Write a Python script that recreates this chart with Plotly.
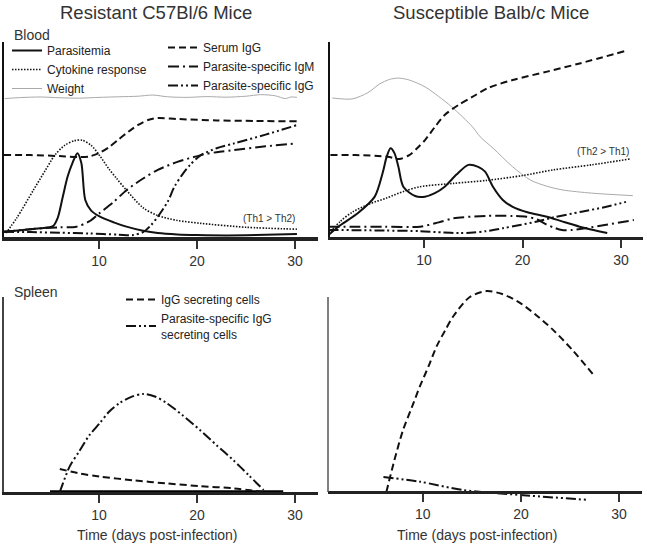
import plotly.graph_objects as go

W, H = 647, 545

# ---------------- data (days post-infection, relative level) ----------------
# Resistant C57Bl/6 - blood
r_weight_days = [0.4, 2, 4, 6, 8, 10, 12, 14, 15.5, 17, 19, 21, 23, 25, 26.5, 28, 29, 29.6, 30.2]
r_weight_vals = [71.0, 71.5, 71.8, 71.4, 71.2, 71.6, 71.9, 72.2, 72.8, 71.9, 71.6, 72.0, 71.7, 72.2, 73.0, 72.4, 71.0, 71.8, 71.6]

r_para_days = [0.3, 2, 4, 5.3, 5.8, 6.3, 6.8, 7.3, 7.8, 8.2, 8.6, 9.2, 10.1, 11.5, 12.8, 14.5, 16, 18, 20, 23, 26, 30.2]
r_para_vals = [2.7, 3.5, 4.5, 5.6, 10, 20.5, 31, 38, 43, 38, 19, 13.5, 10.4, 7.5, 5.3, 3.2, 2, 1.3, 1, 0.8, 1, 1.5]

r_cyto_days = [0.5, 1.6, 3.3, 4.5, 5.5, 6.5, 7.5, 8.3, 9.2, 10.1, 11, 11.8, 12.8, 14.5, 16, 18, 20.4, 25, 30.2]
r_cyto_vals = [2, 9.7, 24, 34, 42, 47, 49.4, 49.6, 47, 41.5, 35, 30, 24, 15, 11, 8.5, 7, 5, 4]

r_serum_days = [0.3, 3, 6, 8, 9, 10, 11, 12, 13, 14, 15, 16, 18, 22, 26, 30.2]
r_serum_vals = [42, 42, 41.5, 41, 41.3, 43, 46, 50, 54, 57.5, 60, 61, 60.5, 59.8, 59.5, 59.3]

r_igm_days = [0.3, 3, 6, 7.7, 9, 10, 11.5, 12.8, 14.5, 16, 18, 20.4, 22, 23.8, 27, 30.2]
r_igm_vals = [2.7, 4, 5, 5.3, 8, 12, 18, 24, 30, 34.4, 38.5, 42, 43.5, 44.6, 46.5, 48]

r_igg_days = [0.3, 3, 6, 9, 12, 13.5, 14.5, 15.3, 16, 17, 17.7, 18.5, 19.3, 20.4, 22, 23.8, 27, 30.2]
r_igg_vals = [2.7, 2.5, 2.2, 1.8, 1.2, 1, 2.5, 6, 10.4, 18, 25.8, 32, 37, 42, 45.5, 48, 52.5, 57.4]

# Susceptible Balb/c - blood
s_weight_days = [0.7, 2.7, 4.3, 5.5, 6.5, 7.4, 8.5, 10.1, 11.5, 12.8, 14.9, 15.7, 17, 19, 20.8, 22.5, 24.1, 27, 31.2]
s_weight_vals = [71.3, 70.8, 74, 78.5, 80.8, 81.5, 80.5, 77, 72, 66.8, 56.6, 51.4, 45.6, 36, 29.2, 26, 24.1, 22.5, 21.2]

s_para_days = [0.3, 1.5, 3.3, 5.0, 5.8, 6.2, 6.6, 7.0, 7.4, 7.9, 9.1, 10.1, 11.1, 12.1, 13.3, 14.5, 15.5, 16.2, 17, 18, 19, 20.5, 22.5, 24, 25.8, 28.6]
s_para_vals = [1, 6, 12.3, 20.7, 32.8, 41, 45.5, 43, 36, 25.8, 21, 20.7, 22.5, 25.8, 32, 37, 36, 33.5, 25.8, 19, 15.5, 12.7, 10.4, 8, 5.3, 2]

s_cyto_days = [0.3, 1.5, 2.8, 4.5, 6.2, 8, 9.6, 13, 16.3, 20, 23.1, 27, 30.9]
s_cyto_vals = [1.5, 8, 13, 17, 20, 23.5, 25.8, 27.5, 29, 31.5, 34.4, 37, 40]

s_serum_days = [0.5, 3, 6.3, 7.5, 8.5, 9.3, 10.1, 11.1, 12.1, 13.5, 14.9, 16.5, 19, 22.5, 25.8, 30.5]
s_serum_vals = [42, 42, 41.2, 40, 42, 45.5, 49.7, 56.4, 62.6, 67.7, 71.8, 76.4, 80.5, 84.8, 89, 95.5]

s_igm_days = [0.3, 3, 6, 9.6, 11.5, 13, 16.3, 19, 20.4, 21.5, 22.4, 23.2, 24, 25, 26.5, 28.5, 31.3]
s_igm_vals = [5.3, 5.3, 5.3, 5.3, 7.5, 9.6, 10.8, 10.8, 10.4, 9, 6.5, 4.8, 3.6, 3.6, 4.6, 6.3, 8.7]

s_igg_days = [0.3, 3, 6, 9.6, 12, 13.6, 15, 16.3, 18, 19.6, 21.5, 23.1, 26, 28.5, 30.5]
s_igg_vals = [3.6, 3.5, 3.3, 3, 2.3, 2, 2.3, 3, 4.5, 6, 8, 10, 13, 15.5, 18]

# Spleen
r_sc_days = [6, 8, 10.1, 13.5, 16.9, 20.3, 23.7, 26.8]
r_sc_vals = [11.8, 9.5, 7.9, 6, 4.4, 3, 1.9, 0]
r_pssc_days = [6, 7, 8, 9, 10.1, 11, 12.1, 13.3, 14.5, 15.7, 16.9, 18.5, 20.3, 22, 23.7, 25.3, 26.8]
r_pssc_vals = [0, 13, 21, 29, 35.4, 41, 45.6, 48.8, 50.3, 49, 45.6, 39.5, 31.8, 24, 16.4, 8.5, 1]
r_base_days = [5, 28.8]
r_base_vals = [0, 0]

s_sc_days = [6.3, 7.1, 8.0, 8.9, 9.7, 10.6, 11.4, 12.3, 13.1, 14.8, 16.5, 18.1, 19.9, 21.6, 23.3, 25.3, 27.4]
s_sc_vals = [0, 16, 31.8, 43.5, 54, 64.5, 74.5, 83, 90, 100, 103, 101.5, 97, 90.5, 83, 72.5, 60]
s_pssc_days = [6.0, 9.7, 14.1, 19.9, 26.7]
s_pssc_vals = [7.7, 5.3, 1, -1.5, -4]

tick_vals = [10, 20, 30]
tick_text = ["10", "20", "30"]

# ---------------- styles ----------------
FONT = "Liberation Sans, Arial, sans-serif"
SERUM = "7px,4px"
IGM = "11px,4px,2px,4px"
IGG = "10px,3px,2px,3px,2px,3px"
DOT = "1.5px,1.5px"


def px(x):
    return x / W


def py(y):
    return 1 - y / H


fig = go.Figure()


def add(xs, ys, name, axis, dash, width=2, color="#111", legend=None, show=False):
    xa, ya = axis
    fig.add_trace(go.Scatter(
        x=xs, y=ys, mode="lines", name=name,
        line=dict(color=color, width=width, dash=dash, shape="spline", smoothing=0.8),
        xaxis=xa, yaxis=ya, showlegend=show, legend=legend or "legend",
        hoverinfo="skip"))


A1, A2, A3, A4 = ("x", "y"), ("x2", "y2"), ("x3", "y3"), ("x4", "y4")

add(r_para_days, r_para_vals, "Parasitemia", A1, "solid", 2, legend="legend", show=True)
add(r_cyto_days, r_cyto_vals, "Cytokine response", A1, DOT, 1.6, legend="legend", show=True)
add(r_weight_days, r_weight_vals, "Weight", A1, "solid", 1, "#aaaaaa", legend="legend", show=True)
add(r_serum_days, r_serum_vals, "Serum IgG", A1, SERUM, 2, legend="legend2", show=True)
add(r_igm_days, r_igm_vals, "Parasite-specific IgM", A1, IGM, 2, legend="legend2", show=True)
add(r_igg_days, r_igg_vals, "Parasite-specific IgG", A1, IGG, 2, legend="legend2", show=True)

add(s_weight_days, s_weight_vals, "Weight", A2, "solid", 1, "#aaaaaa")
add(s_serum_days, s_serum_vals, "Serum IgG", A2, SERUM, 2)
add(s_cyto_days, s_cyto_vals, "Cytokine response", A2, DOT, 1.6)
add(s_para_days, s_para_vals, "Parasitemia", A2, "solid", 2)
add(s_igm_days, s_igm_vals, "Parasite-specific IgM", A2, IGM, 2)
add(s_igg_days, s_igg_vals, "Parasite-specific IgG", A2, IGG, 2)

add(r_base_days, r_base_vals, "baseline", A3, "solid", 3.5, "#000")
add(r_sc_days, r_sc_vals, "IgG secreting cells", A3, SERUM, 2, legend="legend3", show=True)
add(r_pssc_days, r_pssc_vals, "Parasite-specific IgG<br>secreting cells", A3, IGG, 2, legend="legend3", show=True)

add(s_sc_days, s_sc_vals, "IgG secreting cells", A4, SERUM, 2)
add(s_pssc_days, s_pssc_vals, "Parasite-specific IgG secreting cells", A4, IGG, 2)

tickfont = dict(family=FONT, size=14, color="#333")
xcommon = dict(tickvals=tick_vals, ticktext=tick_text, ticks="outside", ticklen=8, tickwidth=1.5,
               tickcolor="#333", tickfont=tickfont, showgrid=False, zeroline=False,
               showline=True, linecolor="#222", fixedrange=True)
ycommon = dict(showticklabels=False, ticks="", showgrid=False, zeroline=False, fixedrange=True)

top_dom = [py(237), py(42)]
bot_dom = [py(492), py(297)]

legfont = dict(family=FONT, size=12, color="#222")
legcommon = dict(font=legfont, bgcolor="rgba(0,0,0,0)", borderwidth=0, xanchor="left",
                 yanchor="top", tracegroupgap=0, itemclick=False, itemdoubleclick=False)

left_range = [0.306, 32.35]

fig.update_layout(
    width=W, height=H, margin=dict(l=0, r=0, t=0, b=0),
    paper_bgcolor="white", plot_bgcolor="white",
    font=dict(family=FONT, color="#333"),
    xaxis=dict(domain=[px(4), px(318)], range=left_range, anchor="y", linewidth=3.5, **xcommon),
    yaxis=dict(domain=top_dom, range=[0, 100], anchor="x", showline=True, linecolor="#111", linewidth=2, **ycommon),
    xaxis2=dict(domain=[px(330), px(643)], range=[0.457, 32.23], anchor="y2", linewidth=3, **xcommon),
    yaxis2=dict(domain=top_dom, range=[0, 100], anchor="x2", showline=True, linecolor="#111", linewidth=1.5, **ycommon),
    xaxis3=dict(domain=[px(4), px(318)], range=left_range, anchor="y3", linewidth=2.5, **xcommon),
    yaxis3=dict(domain=bot_dom, range=[0, 100], anchor="x3", showline=True, linecolor="#444", linewidth=1.5, **ycommon),
    xaxis4=dict(domain=[px(328), px(642)], range=[0.356, 32.33], anchor="free", position=py(492), linewidth=3, **xcommon),
    yaxis4=dict(domain=[py(502), py(288)], range=[-5.13, 104.6], anchor="x4", showline=False, **ycommon),
    legend=dict(x=px(7), y=py(36), **legcommon),
    legend2=dict(x=px(163), y=py(33), **legcommon),
    legend3=dict(x=px(121), y=py(285), **legcommon),
    showlegend=True,
)

# y axis line for the lower-right panel (spans 0..100 only)
fig.add_shape(type="line", xref="x4 domain", yref="y4", x0=0, x1=0, y0=0, y1=100,
              line=dict(color="#555", width=1.5))

ann = [
    dict(text="Resistant C57Bl/6 Mice", x=px(156), y=py(13), size=18.5),
    dict(text="Susceptible Balb/c Mice", x=px(491), y=py(13), size=18.5),
    dict(text="Time (days post-infection)", x=px(157), y=py(535), size=14),
    dict(text="Time (days post-infection)", x=px(477), y=py(535), size=14),
]
for a in ann:
    fig.add_annotation(text=a["text"], x=a["x"], y=a["y"], xref="paper", yref="paper",
                       showarrow=False, xanchor="center", yanchor="middle",
                       font=dict(family=FONT, size=a["size"], color="#333"))

for t, y in [("Blood", 35), ("Spleen", 292)]:
    fig.add_annotation(text=t, x=px(12), y=py(y), xref="paper", yref="paper", showarrow=False,
                       xanchor="left", yanchor="middle", font=dict(family=FONT, size=14, color="#333"))

fig.add_annotation(text="(Th1 > Th2)", x=27.4, y=9.7, xref="x", yref="y", showarrow=False,
                   xanchor="center", yanchor="middle", font=dict(family=FONT, size=10, color="#333"))
fig.add_annotation(text="(Th2 > Th1)", x=28.2, y=44, xref="x2", yref="y2", showarrow=False,
                   xanchor="center", yanchor="middle", font=dict(family=FONT, size=10, color="#333"))

# remove the default page margin so the 647x545 figure fills the window exactly
fig.write_html("out.html", config={"displayModeBar": False},
               post_script="document.body.style.margin='0';")
